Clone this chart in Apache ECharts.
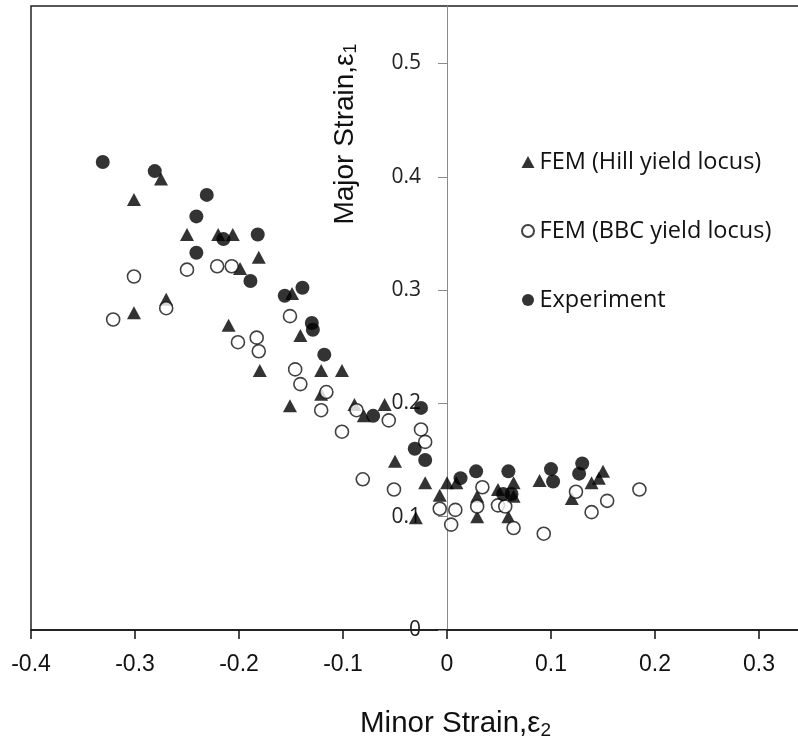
<!DOCTYPE html>
<html>
<head>
<meta charset="utf-8">
<script src="https://cdn.jsdelivr.net/npm/echarts@6/dist/echarts.min.js"></script>
<style>
html,body{margin:0;padding:0;background:#fff;}
#chart{width:798px;height:746px;}
</style>
</head>
<body>
<div id="chart"></div>
<script>
// ---- Data ----
const seriesNames = ['FEM (Hill yield locus)', 'FEM (BBC yield locus)', 'Experiment'];

const hillX = [-0.275,-0.301,-0.250,-0.220,-0.206,-0.181,-0.199,-0.270,-0.301,-0.210,-0.149,-0.141,-0.180,-0.121,-0.101,-0.121,-0.151,-0.089,-0.080,-0.060,-0.050,-0.021,0.000,-0.007,0.009,0.029,0.029,-0.030,0.049,0.064,0.064,0.059,0.089,0.120,0.139,0.146,0.150];
const hillY = [0.398,0.380,0.349,0.349,0.349,0.329,0.319,0.292,0.280,0.269,0.297,0.260,0.229,0.229,0.229,0.208,0.198,0.199,0.189,0.199,0.149,0.130,0.130,0.119,0.130,0.118,0.100,0.099,0.124,0.130,0.118,0.100,0.132,0.116,0.130,0.134,0.140];

const bbcX = [-0.301,-0.321,-0.270,-0.250,-0.221,-0.207,-0.201,-0.183,-0.181,-0.151,-0.146,-0.141,-0.116,-0.121,-0.087,-0.056,-0.101,-0.025,-0.021,-0.081,-0.051,-0.007,0.008,0.004,0.034,0.029,0.049,0.056,0.064,0.093,0.124,0.139,0.154,0.185];
const bbcY = [0.312,0.274,0.284,0.318,0.321,0.321,0.254,0.258,0.246,0.277,0.230,0.217,0.210,0.194,0.194,0.185,0.175,0.177,0.166,0.133,0.124,0.107,0.106,0.093,0.126,0.109,0.110,0.109,0.090,0.085,0.122,0.104,0.114,0.124];

const expX = [-0.331,-0.281,-0.231,-0.241,-0.215,-0.182,-0.241,-0.189,-0.156,-0.139,-0.130,-0.129,-0.118,-0.071,-0.025,-0.031,-0.021,0.013,0.028,0.059,0.054,0.062,0.100,0.102,0.130,0.127];
const expY = [0.413,0.405,0.384,0.365,0.345,0.349,0.333,0.308,0.295,0.302,0.271,0.265,0.243,0.189,0.196,0.160,0.150,0.134,0.140,0.140,0.120,0.120,0.142,0.131,0.147,0.138];

const xTicks = [-0.4,-0.3,-0.2,-0.1,0,0.1,0.2,0.3];
const yTicks = [0,0.1,0.2,0.3,0.4,0.5];

function zip(xs, ys){ return xs.map((x,i)=>[x, ys[i]]); }

const chart = echarts.init(document.getElementById('chart'), null, {renderer:'canvas'});

const GRID_LEFT = 31, GRID_W = 769;
const X_MIN = -0.4, X_MAX = 0.3394;
// pixel offset that puts the y axis (with its ticks and labels) on x = 0
const yAxisOffset = -Math.round((0 - X_MIN) / (X_MAX - X_MIN) * GRID_W);

const option = {
  animation: false,
  backgroundColor: '#fff',
  grid: {
    left: GRID_LEFT, top: 6, right: -2, bottom: 116,
    containLabel: false, outerBoundsMode: 'none',
    show: true, borderColor: '#222', borderWidth: 1.5, backgroundColor: 'transparent'
  },
  legend: {
    orient: 'vertical',
    left: 516, top: 145,
    itemGap: 45,
    itemWidth: 13, itemHeight: 12,
    data: seriesNames,
    textStyle: {fontFamily: '"Open Sans", sans-serif', fontSize: 23.5, color: '#111', lineHeight: 22, padding: [0,0,0,0]}
  },
  xAxis: {
    type: 'value',
    min: X_MIN, max: X_MAX, interval: 0.1,
    name: 'Minor Strain,ε{sub|2}',
    nameLocation: 'middle',
    nameGap: 77,
    nameTextStyle: {
      fontFamily: '"Liberation Sans", sans-serif', fontSize: 29.5, color: '#111',
      padding: [0, 0, 0, 80],
      rich: { sub: {fontFamily: '"Liberation Sans", sans-serif', fontSize: 19, color: '#111', padding: [14,0,0,0]} }
    },
    axisLine: {onZero: false, lineStyle: {color: '#111', width: 1.5}},
    axisTick: {show: true, length: 9, lineStyle: {color: '#111', width: 1.5}},
    axisLabel: {
      margin: 23, showMaxLabel: false,
      fontFamily: '"Liberation Sans", sans-serif', fontSize: 23, color: '#111',
      formatter: v => (Math.abs(v) < 1e-9 ? '0' : String(+v.toFixed(1)))
    },
    splitLine: {show: false}
  },
  yAxis: {
    type: 'value',
    position: 'left',
    offset: yAxisOffset,
    min: 0, max: 0.5507, interval: 0.1,
    axisLine: {show: true, onZero: false, lineStyle: {color: '#8a8a8a', width: 1}},
    axisTick: {show: true, length: 9, lineStyle: {color: '#8a8a8a', width: 1}},
    axisLabel: {
      margin: 26, showMaxLabel: false,
      fontFamily: '"Open Sans", sans-serif', fontSize: 21, color: '#222',
      formatter: v => (Math.abs(v) < 1e-9 ? '0' : String(+v.toFixed(1)))
    },
    splitLine: {show: false}
  },
  graphic: [{
    type: 'text',
    x: 345, y: 134,
    rotation: Math.PI / 2,
    style: {
      text: 'Major Strain,ε{sub|1}',
      align: 'center', verticalAlign: 'middle',
      fontFamily: '"Liberation Sans", sans-serif', fontSize: 28, fill: '#111',
      rich: { sub: {fontFamily: '"Liberation Sans", sans-serif', fontSize: 18, fill: '#111', padding: [12,0,0,0]} }
    }
  }],
  series: [
    {
      name: seriesNames[0], type: 'scatter', z: 2,
      symbol: 'triangle', symbolSize: [14, 13],
      itemStyle: {color: '#000'},
      data: zip(hillX, hillY)
    },
    {
      name: seriesNames[1], type: 'scatter', z: 3,
      symbol: 'circle', symbolSize: 13,
      itemStyle: {color: '#fff', borderColor: '#111', borderWidth: 1.6},
      data: zip(bbcX, bbcY)
    },
    {
      name: seriesNames[2], type: 'scatter', z: 4,
      symbol: 'circle', symbolSize: 14,
      itemStyle: {color: '#000'},
      data: zip(expX, expY)
    }
  ]
};
chart.setOption(option);
</script>
</body>
</html>
